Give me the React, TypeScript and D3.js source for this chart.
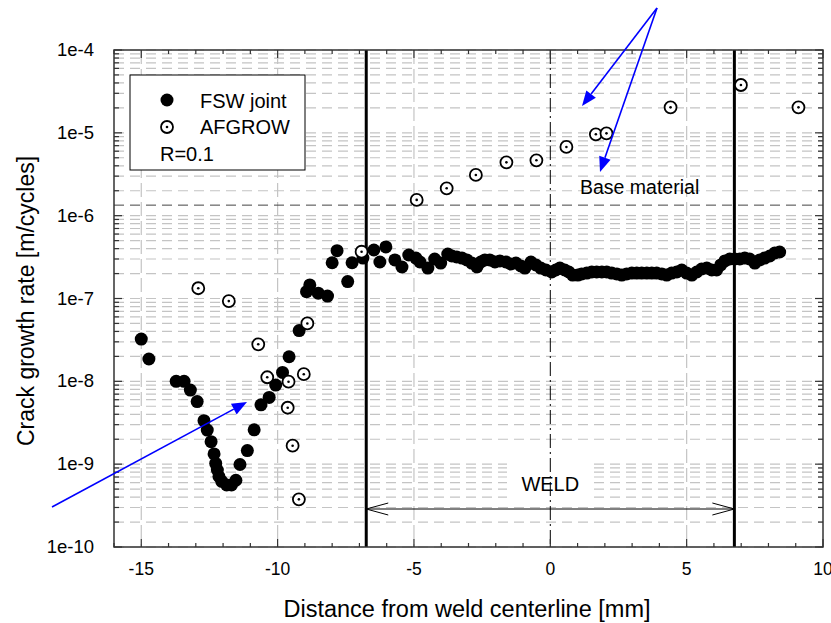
import React from 'react';
import * as d3 from 'd3';

// FSW joint measurements: distance [mm], crack growth rate [m/cycle]
const fswX = [
  -15.0, -14.72, -13.72, -13.43, -13.2, -12.95, -12.7, -12.58, -12.44, -12.33, -12.27, -12.21,
  -12.15, -12.05, -11.87, -11.69, -11.53, -11.38, -11.11, -10.86, -10.61, -10.31, -10.07, -9.82,
  -9.58, -9.21, -8.94, -8.82, -8.51, -8.17, -8.0, -7.82, -7.43, -7.27,
  -6.87, -6.47, -6.25, -6.03, -5.7, -5.44, -5.19, -4.93, -4.78, -4.49, -4.24, -4.02, -3.76,
  -3.61, -3.43, -3.24, -3.06, -2.88, -2.69, -2.55, -2.4, -2.22, -2.03, -1.85, -1.63, -1.45,
  -1.26, -1.08, -0.93, -0.71, -0.53, -0.35, -0.16, 0.05, 0.2, 0.35, 0.53, 0.68, 0.82, 1.01,
  1.15, 1.34, 1.52, 1.7, 1.89, 2.07, 2.25, 2.44, 2.62, 2.8, 2.99, 3.17, 3.35, 3.54, 3.72, 3.9,
  4.09, 4.27, 4.45, 4.64, 4.82, 5.0, 5.19, 5.37, 5.55, 5.74, 5.92, 6.1, 6.25, 6.4, 6.58, 6.76,
  6.95, 7.13, 7.31, 7.5, 7.68, 7.86, 8.05, 8.23, 8.41,
];
const fswY = [
  3.24e-8, 1.86e-8, 1.0e-8, 1.0e-8, 7.85e-9, 5.7e-9, 3.35e-9, 2.58e-9, 1.87e-9, 1.33e-9, 1.02e-9, 8.5e-10,
  7.1e-10, 6.2e-10, 5.6e-10, 5.6e-10, 6.4e-10, 9.9e-10, 1.46e-9, 2.6e-9, 5.2e-9, 6.4e-9, 9.0e-9, 1.28e-8,
  1.98e-8, 4.1e-8, 1.21e-7, 1.46e-7, 1.16e-7, 1.07e-7, 2.7e-7, 3.78e-7, 1.6e-7, 2.7e-7,
  3.08e-7, 3.85e-7, 2.76e-7, 4.19e-7, 2.92e-7, 2.4e-7, 3.35e-7, 3.08e-7, 2.76e-7, 2.33e-7, 3.0e-7, 2.68e-7, 3.44e-7,
  3.26e-7, 3.17e-7, 3.08e-7, 2.92e-7, 2.68e-7, 2.4e-7, 2.76e-7, 2.92e-7, 2.92e-7, 2.76e-7, 2.84e-7, 2.76e-7, 2.61e-7,
  2.68e-7, 2.47e-7, 2.33e-7, 2.76e-7, 2.54e-7, 2.33e-7, 2.21e-7, 2.09e-7, 2.21e-7, 2.33e-7, 2.21e-7, 2.09e-7, 1.92e-7, 1.92e-7,
  1.98e-7, 2.03e-7, 2.09e-7, 2.09e-7, 2.09e-7, 2.09e-7, 2.03e-7, 1.98e-7, 1.92e-7, 1.98e-7, 2.03e-7, 2.03e-7, 2.03e-7, 2.03e-7, 2.03e-7, 2.03e-7,
  1.98e-7, 1.92e-7, 2.03e-7, 2.09e-7, 2.21e-7, 2.03e-7, 1.92e-7, 2.09e-7, 2.27e-7, 2.33e-7, 2.21e-7, 2.21e-7, 2.54e-7, 2.84e-7, 3.0e-7, 3.0e-7,
  3.0e-7, 3.08e-7, 3.0e-7, 2.68e-7, 2.92e-7, 3.08e-7, 3.26e-7, 3.54e-7, 3.64e-7,
];

// AFGROW prediction
const afgX = [
  -12.91, -11.79, -10.71, -10.38, -9.63, -9.6, -9.45, -9.22, -9.04, -8.91, -6.92,
  -4.9, -3.8, -2.73, -1.61, -0.51, 0.59, 1.67, 2.06, 4.41, 6.99, 9.1,
];
const afgY = [
  1.33e-7, 9.3e-8, 2.8e-8, 1.12e-8, 4.8e-9, 9.9e-9, 1.67e-9, 3.76e-10, 1.22e-8, 5.0e-8, 3.67e-7,
  1.55e-6, 2.14e-6, 3.1e-6, 4.4e-6, 4.66e-6, 6.75e-6, 9.6e-6, 9.86e-6, 2.03e-5, 3.78e-5, 2.03e-5,
];

const xTickValues = [-15, -10, -5, 0, 5, 10];
const xTickLabels = ['-15', '-10', '-5', '0', '5', '10'];
const yTickValues = [1e-10, 1e-9, 1e-8, 1e-7, 1e-6, 1e-5, 1e-4];
const yTickLabels = ['1e-10', '1e-9', '1e-8', '1e-7', '1e-6', '1e-5', '1e-4'];
const weldBounds = [-6.75, 6.75];
const baseMaterialRate = 1.34e-6;
const legendLabels = ['FSW joint', 'AFGROW', 'R=0.1'];

const FONT = 'Arial, "Liberation Sans", Helvetica, sans-serif';

export default function App() {
  const W = 831, H = 623;
  const L = 114, R = 823, T = 50, B = 547;
  const x = d3.scaleLinear().domain([-16, 10]).range([L, R]);
  const y = d3.scaleLog().domain([1e-10, 1e-4]).range([B, T]);

  const minorY: number[] = [];
  for (let e = -10; e < -4; e++) {
    for (let k = 1; k <= 9; k++) minorY.push(k * Math.pow(10, e));
  }
  minorY.push(1e-4);
  const intX = d3.range(-16, 11);

  const arrow = (x1: number, y1: number, x2: number, y2: number, key: string) => {
    const ang = Math.atan2(y2 - y1, x2 - x1);
    const len = 15, hw = 6;
    const bx = x2 - len * Math.cos(ang), by = y2 - len * Math.sin(ang);
    const px = -Math.sin(ang) * hw, py = Math.cos(ang) * hw;
    return (
      <g key={key}>
        <line x1={x1} y1={y1} x2={bx} y2={by} stroke="#0000ff" strokeWidth={1.6} />
        <path d={`M${x2},${y2}L${bx + px},${by + py}L${bx - px},${by - py}Z`} fill="#0000ff" />
      </g>
    );
  };

  const weldY = 509;
  const xl = x(weldBounds[0]), xr = x(weldBounds[1]);

  return (
    <svg width={W} height={H} style={{ position: 'absolute', left: 0, top: 0, background: '#fff' }} fontFamily={FONT}>
      <rect x={0} y={0} width={W} height={H} fill="#fff" />
      {/* horizontal grid */}
      <g>
        {minorY.map((v, i) => (
          <line key={'hg' + i} x1={L} x2={R} y1={y(v)} y2={y(v)} stroke="#c4c4c4" strokeWidth={1.2} strokeDasharray="10,6" />
        ))}
      </g>
      {/* vertical grid */}
      <g>
        {[-15, -10, -5, 5].map((v) => (
          <line key={'vg' + v} x1={x(v)} x2={x(v)} y1={T} y2={B} stroke="#c4c4c4" strokeWidth={1.2} strokeDasharray="14,5" />
        ))}
      </g>
      {/* white box behind WELD label */}
      <rect x={507} y={463} width={84} height={38} fill="#fff" />
      {/* base material line */}
      <line x1={L} x2={R} y1={y(baseMaterialRate)} y2={y(baseMaterialRate)} stroke="#444" strokeWidth={1} strokeDasharray="10,6" />
      {/* centerline dash-dot */}
      <line x1={x(0)} x2={x(0)} y1={T} y2={B} stroke="#000" strokeWidth={1} strokeDasharray="14,4,2,4" />
      {/* weld boundaries */}
      {weldBounds.map((v) => (
        <line key={'wb' + v} x1={x(v)} x2={x(v)} y1={T} y2={B} stroke="#000" strokeWidth={3} />
      ))}
      {/* WELD double arrow */}
      <g stroke="#000" strokeWidth={1} fill="none">
        <line x1={xl} x2={xr} y1={weldY} y2={weldY} />
        <path d={`M${xl + 22},${weldY - 6}L${xl},${weldY}L${xl + 22},${weldY + 6}`} />
        <path d={`M${xr - 22},${weldY - 6}L${xr},${weldY}L${xr - 22},${weldY + 6}`} />
      </g>
      <text x={x(0)} y={491} textAnchor="middle" fontSize={20} fill="#000">WELD</text>
      <text x={580} y={194} fontSize={19.5} fill="#000">Base material</text>

      {/* axes frame */}
      <rect x={L} y={T} width={R - L} height={B - T} fill="none" stroke="#333" strokeWidth={1.5} />
      {/* x ticks */}
      {intX.map((v) => {
        const len = v % 5 === 0 ? 8 : 4;
        return (
          <g key={'xt' + v} stroke="#333" strokeWidth={1.2}>
            <line x1={x(v)} x2={x(v)} y1={B} y2={B - len} />
            <line x1={x(v)} x2={x(v)} y1={T} y2={T + len} />
          </g>
        );
      })}
      {/* y ticks */}
      {minorY.map((v, i) => {
        const major = Math.abs(Math.log10(v) - Math.round(Math.log10(v))) < 1e-9;
        const len = major ? 8 : 5;
        return (
          <g key={'yt' + i} stroke="#333" strokeWidth={1.2}>
            <line x1={L} x2={L + len} y1={y(v)} y2={y(v)} />
            <line x1={R} x2={R - len} y1={y(v)} y2={y(v)} />
          </g>
        );
      })}
      {/* tick labels */}
      {xTickValues.map((v, i) => (
        <text key={'xl' + v} x={x(v)} y={575} textAnchor="middle" fontSize={17.5} fill="#000">{xTickLabels[i]}</text>
      ))}
      {yTickValues.map((v, i) => (
        <text key={'yl' + i} x={94} y={y(v) + 6} textAnchor="end" fontSize={18.5} fill="#000">{yTickLabels[i]}</text>
      ))}
      {/* axis titles */}
      <text x={467} y={617} textAnchor="middle" fontSize={23.5} fill="#000">Distance from weld centerline [mm]</text>
      <text transform={`translate(34,301) rotate(-90)`} textAnchor="middle" fontSize={23} fill="#000">Crack growth rate [m/cycles]</text>

      {/* data */}
      <g>
        {fswX.map((v, i) => (
          <circle key={'f' + i} cx={x(v)} cy={y(fswY[i])} r={6.5} fill="#000" />
        ))}
      </g>
      <g>
        {afgX.map((v, i) => (
          <g key={'a' + i}>
            <circle cx={x(v)} cy={y(afgY[i])} r={6} fill="#fff" stroke="#000" strokeWidth={1.8} />
            <circle cx={x(v)} cy={y(afgY[i])} r={1.3} fill="#000" />
          </g>
        ))}
      </g>

      {/* legend */}
      <rect x={130} y={75} width={175} height={95} fill="#fff" stroke="#000" strokeWidth={1} />
      <circle cx={167} cy={100} r={6.5} fill="#000" />
      <circle cx={167} cy={127} r={6} fill="#fff" stroke="#000" strokeWidth={1.8} />
      <circle cx={167} cy={127} r={1.3} fill="#000" />
      <text x={200} y={108} fontSize={20} fill="#000">{legendLabels[0]}</text>
      <text x={200} y={134} fontSize={20} fill="#000">{legendLabels[1]}</text>
      <text x={160} y={161} fontSize={20} fill="#000">{legendLabels[2]}</text>

      {/* blue arrows */}
      {arrow(657, 8, 582, 106, 'a1')}
      {arrow(657, 8, 600, 172, 'a2')}
      {arrow(52, 507, 247, 402, 'a3')}
    </svg>
  );
}
